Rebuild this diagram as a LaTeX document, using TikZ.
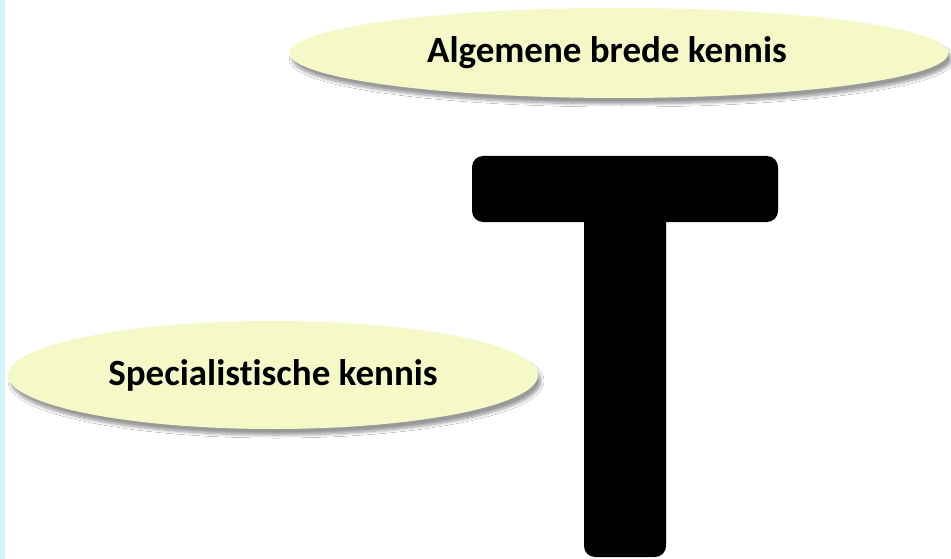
\documentclass[tikz,border=0pt]{standalone}
\usepackage{fontspec}
\setmainfont[Ligatures=NoCommon]{Carlito}
\usetikzlibrary{shapes.geometric, shadows.blur}

\definecolor{stripblue}{RGB}{213,243,251}
\definecolor{paleyellow}{RGB}{245,249,200}

\tikzset{
    kennis/.style={ellipse, inner sep=0pt, fill=paleyellow,
        blur shadow={shadow xshift=3pt, shadow yshift=-6pt,
            shadow blur radius=3pt, shadow blur steps=8, shadow opacity=40}},
    kennistekst/.style={inner sep=0pt, font=\fontsize{37}{44}\selectfont\bfseries}
}

\begin{document}
\begin{tikzpicture}[x=1pt, y=-1pt]

    % --- Canvas ---
    \useasboundingbox (0,0) rectangle (951,559);
    \fill[white] (0,0) rectangle (951,559);
    \fill[stripblue] (0,0) rectangle (5,559);

    % --- Ellipses ---
    \node[kennis, minimum width=659pt, minimum height=90pt] (breed) at (619,53) {};
    \node[kennistekst] (breedtekst) at ([xshift=-12pt]breed.center) {Algemene brede kennis};
    \node[kennis, minimum width=530pt, minimum height=108pt] (specialist) at (273,375) {};
    \node[kennistekst] (specialisttekst) at (specialist.center) {Specialistische kennis};

    % --- The T ---
    % stem first, its top corners hide under the bar
    \fill[black, rounded corners=11pt] (584,190) -- (584,557) -- (666,557) -- (666,190) -- cycle;
    \fill[black, rounded corners=11pt] (472,156) rectangle (778,222);

\end{tikzpicture}
\end{document}
